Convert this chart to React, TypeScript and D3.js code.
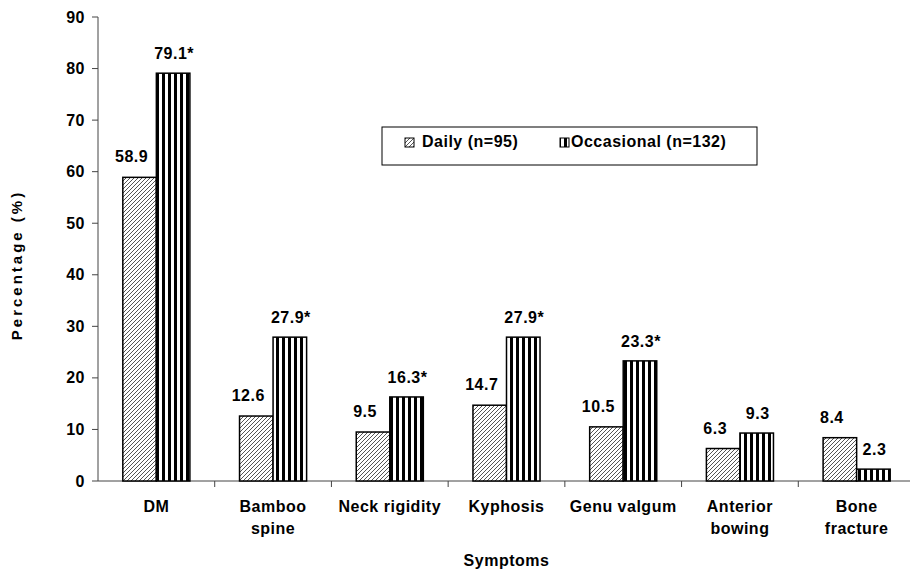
import React from "react";
import * as d3 from "d3";

const categories: string[][] = [
  ["DM"],
  ["Bamboo", "spine"],
  ["Neck rigidity"],
  ["Kyphosis"],
  ["Genu valgum"],
  ["Anterior", "bowing"],
  ["Bone", "fracture"],
];
const dailyValues = [58.9, 12.6, 9.5, 14.7, 10.5, 6.3, 8.4];
const occasionalValues = [79.1, 27.9, 16.3, 27.9, 23.3, 9.3, 2.3];
const occasionalSignificant = [true, true, true, true, true, false, false];
const seriesNames = ["Daily (n=95)", "Occasional (n=132)"];
const yTicks = [0, 10, 20, 30, 40, 50, 60, 70, 80, 90];

const W = 910;
const H = 572;
const FONT = "'Liberation Sans', Arial, Helvetica, sans-serif";
const FS = 16;
const LS = 0.5;

export default function App() {
  const left = 98;
  const right = 915;
  const top = 17;
  const bottom = 481;

  const keys = categories.map((c) => c.join(" "));
  const x = d3.scaleBand<string>().domain(keys).range([left, right]).paddingInner(0).paddingOuter(0);
  const inner = d3
    .scaleBand<string>()
    .domain(["daily", "occ"])
    .range([0, x.bandwidth()])
    .paddingInner(0)
    .paddingOuter(0.74);
  const y = d3.scaleLinear().domain([0, 90]).range([bottom, top]);

  const fmt = d3.format(".1f");
  const boundaries = keys.map((k) => (x(k) as number) + x.bandwidth());

  return (
    <svg
      width={W}
      height={H}
      style={{ position: "absolute", left: 0, top: 0, background: "#fff" }}
      fontFamily={FONT}
      fontWeight="bold"
      fontSize={FS}
      letterSpacing={LS}
    >
      <defs>
        <pattern id="hatch" patternUnits="userSpaceOnUse" width="4" height="4">
          <rect width="4" height="4" fill="#fff" />
          <path d="M-1,1 l2,-2 M0,4 l4,-4 M3,5 l2,-2" stroke="#555" strokeWidth="1" />
        </pattern>
        <pattern id="vstripe" patternUnits="userSpaceOnUse" width="6" height="6">
          <rect width="6" height="6" fill="#fff" />
          <rect x="0" width="3" height="6" fill="#000" />
        </pattern>
      </defs>

      {/* y axis */}
      <line x1={left} x2={left} y1={top} y2={bottom} stroke="#444" strokeWidth={1} />
      {yTicks.map((t) => (
        <g key={t}>
          <line x1={left - 6} x2={left} y1={y(t)} y2={y(t)} stroke="#444" />
          <text x={left - 13} y={y(t)} dy="0.35em" textAnchor="end">
            {t}
          </text>
        </g>
      ))}
      <text
        transform={`translate(22,265) rotate(-90)`}
        textAnchor="middle"
        fontSize={15}
        letterSpacing={3}
      >
        Percentage (%)
      </text>

      {/* x axis */}
      <line x1={left} x2={W} y1={bottom} y2={bottom} stroke="#444" />
      {boundaries.map((b, i) => (
        <line key={i} x1={b} x2={b} y1={bottom} y2={bottom + 6} stroke="#444" />
      ))}

      {/* bars */}
      {keys.map((k, i) => {
        const x0 = x(k) as number;
        const xd = x0 + (inner("daily") as number);
        const xo = x0 + (inner("occ") as number);
        const bw = inner.bandwidth();
        return (
          <g key={k}>
            <rect
              x={xd}
              y={y(dailyValues[i])}
              width={bw}
              height={bottom - y(dailyValues[i])}
              fill="url(#hatch)"
              stroke="#000"
              strokeWidth={1.5}
            />
            <rect
              x={xo}
              y={y(occasionalValues[i])}
              width={bw}
              height={bottom - y(occasionalValues[i])}
              fill="url(#vstripe)"
              stroke="#000"
              strokeWidth={1.5}
            />
            <text x={xd + bw / 2 - 8} y={y(dailyValues[i]) - 15} textAnchor="middle">
              {fmt(dailyValues[i])}
            </text>
            <text x={xo + bw / 2 + 1} y={y(occasionalValues[i]) - 14} textAnchor="middle">
              {fmt(occasionalValues[i]) + (occasionalSignificant[i] ? "*" : "")}
            </text>
            {categories[i].map((line, j) => (
              <text key={j} x={x0 + x.bandwidth() / 2} y={512 + j * 22} textAnchor="middle">
                {line}
              </text>
            ))}
          </g>
        );
      })}

      <text x={(left + right) / 2} y={566} textAnchor="middle">
        Symptoms
      </text>

      {/* legend */}
      <rect x={382} y={127} width={375} height={38} fill="#fff" stroke="#000" strokeWidth={1} />
      <rect x={405} y={138} width={9} height={9} fill="url(#hatch)" stroke="#000" />
      <text x={422} y={147}>
        {seriesNames[0]}
      </text>
      <rect x={560} y={138} width={9} height={9} fill="url(#vstripe)" stroke="#000" />
      <text x={571} y={147}>
        {seriesNames[1]}
      </text>
    </svg>
  );
}
